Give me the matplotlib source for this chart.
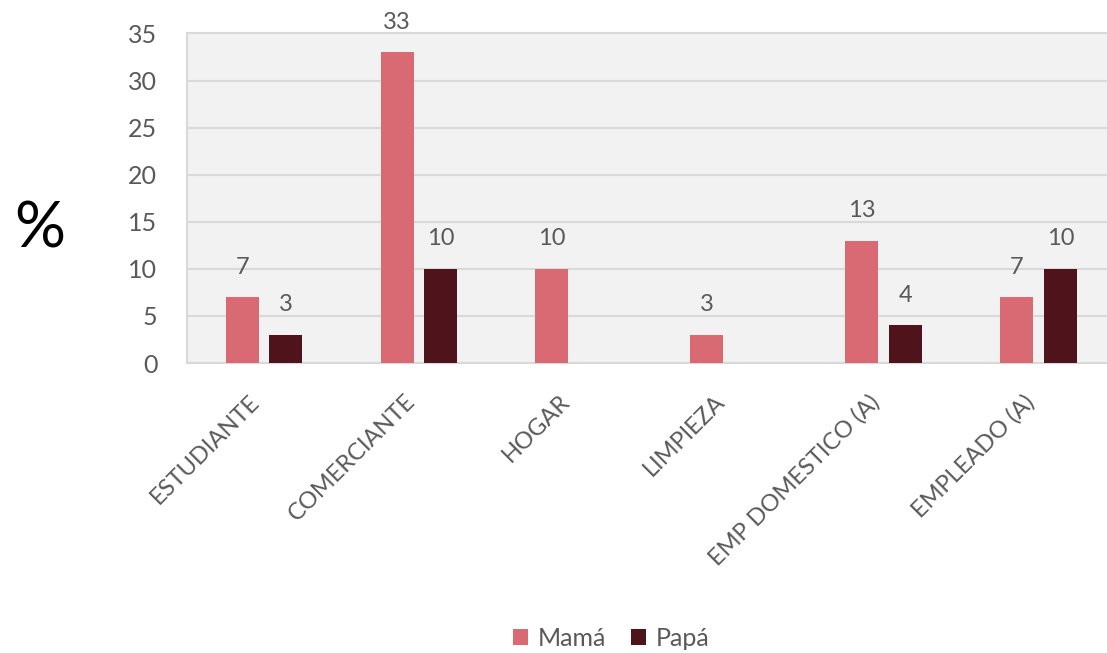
import matplotlib
matplotlib.use("Agg")
import matplotlib.pyplot as plt
import numpy as np

categories = ["ESTUDIANTE", "COMERCIANTE", "HOGAR", "LIMPIEZA", "EMP DOMESTICO (A)", "EMPLEADO (A)"]
mama = [7, 33, 10, 3, 13, 7]
papa = [3, 10, None, None, 4, 10]
series_names = ["Mamá", "Papá"]
yticks = [0, 5, 10, 15, 20, 25, 30, 35]

plt.rcParams['font.family'] = ['Lato', 'DejaVu Sans']
txt = '#595959'
c_mama = '#D96A74'
c_papa = '#4F141B'

fig = plt.figure(figsize=(11.07, 6.53), dpi=100)
ax = fig.add_axes([0.1685, 0.4441, 0.8397, 0.5046])
ax.set_facecolor('#F2F2F2')

x = np.arange(len(categories))
w = 0.213
off = 0.141
bm = ax.bar(x - off, mama, w, color=c_mama, zorder=3, label=series_names[0])
pv = [np.nan if v is None else v for v in papa]
bp = ax.bar(x + off, pv, w, color=c_papa, zorder=3, label=series_names[1])

for xi, v in zip(x, mama):
    ax.annotate(str(v), (xi - off, v), xytext=(0, 14), textcoords='offset points',
                ha='center', va='bottom', fontsize=17, color=txt)
for xi, v in zip(x, papa):
    if v is not None:
        ax.annotate(str(v), (xi + off, v), xytext=(0, 14), textcoords='offset points',
                    ha='center', va='bottom', fontsize=17, color=txt)

ax.set_xlim(-0.5, len(categories) - 0.5)
ax.set_ylim(0, 35)
ax.set_yticks(yticks)
ax.yaxis.grid(True, color='#D9D9D9', linewidth=1.5, zorder=0)
ax.set_axisbelow(True)
for s in ax.spines.values():
    s.set_color('#D9D9D9')
    s.set_linewidth(1.5)
ax.tick_params(axis='both', length=0, colors=txt)
ax.tick_params(axis='y', pad=21, labelsize=18)
ax.set_xticks(x)
ax.set_xticklabels(categories, rotation=45, ha='right', rotation_mode='default', fontsize=17, color=txt)
ax.tick_params(axis='x', pad=20)

fig.text(0.036, 0.648, '%', fontsize=46, color='black', ha='center', va='center')

leg = fig.legend(handles=[bm, bp], labels=series_names, loc='center', bbox_to_anchor=(0.552, 0.022),
                 ncol=2, frameon=False, fontsize=18, handlelength=0.6, handleheight=0.6,
                 handletextpad=0.4, columnspacing=1.0)
for t in leg.get_texts():
    t.set_color(txt)

fig.savefig('out.png', dpi=100)
